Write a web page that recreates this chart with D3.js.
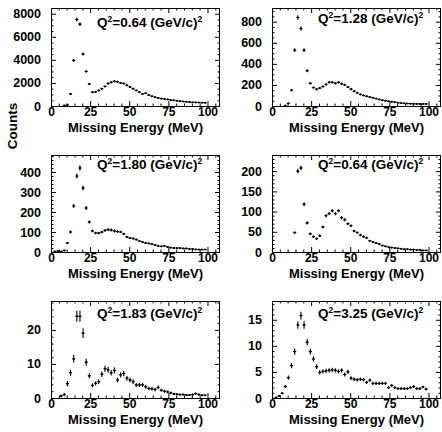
<!DOCTYPE html>
<html lang="en">
<head>
<meta charset="UTF-8">
<title>Missing Energy Spectra</title>
<script src="https://d3js.org/d3.v7.min.js"></script>
<style>
  html, body { margin: 0; padding: 0; background: #fff; }
  svg { display: block; }
  text { font-family: "Liberation Sans", Arial, Helvetica, sans-serif; font-weight: bold; fill: #000; }
  .axis path { display: none; }
  .axis line { stroke: #000; stroke-width: 1; }
</style>
</head>
<body>
<svg width="442" height="432"></svg>
<script>
// bin centres (MeV), 2 MeV bins
const energy = [0.5, 2.5, 4.5, 6.5, 8.5, 10.5, 12.5, 14.5, 16.5, 18.5,
                20.5, 22.5, 24.5, 26.5, 28.5, 30.5, 32.5, 34.5, 36.5, 38.5,
                40.5, 42.5, 44.5, 46.5, 48.5, 50.5, 52.5, 54.5, 56.5, 58.5,
                60.5, 62.5, 64.5, 66.5, 68.5, 70.5, 72.5, 74.5, 76.5, 78.5,
                80.5, 82.5, 84.5, 86.5, 88.5, 90.5, 92.5, 94.5, 96.5, 98.5];

const q2Labels = ["0.64", "1.28", "1.80", "0.64", "1.83", "3.25"];

const counts1 = [null, null, null, null, 50, 100, 1050, 3950, 7500, 7100,
                 4500, 3000, 1900, 1200, 1230, 1350, 1500, 1700, 1950, 2050,
                 2150, 2100, 2000, 1950, 1800, 1650, 1500, 1350, 1200, 1050,
                 1100, 950, 850, 760, 700, 640, 600, 570, 530, 490,
                 450, 420, 390, 360, 340, 320, 310, 300, 290, 280];
const errors1 = [0, 0, 0, 0, 20, 30, 70, 120, 170, 165,
                 130, 105, 85, 70, 70, 70, 75, 80, 85, 90,
                 90, 90, 85, 85, 85, 80, 75, 70, 70, 65,
                 65, 60, 60, 55, 55, 50, 50, 50, 45, 45,
                 45, 40, 40, 40, 40, 35, 35, 35, 35, 35];

const counts2 = [null, null, null, null, 5, 25, 150, 530, 840, 735,
                 530, 335, 215, 175, 160, 170, 185, 205, 225, 225,
                 215, 225, 210, 200, 180, 160, 140, 125, 110, 100,
                 92, 85, 78, 70, 62, 55, 50, 45, 40, 36,
                 32, 28, 25, 23, 22, 21, 20, 20, 20, 20];
const errors2 = [0, 0, 0, 0, 2, 5, 10, 18, 22, 20,
                 18, 14, 11, 10, 10, 10, 10, 11, 11, 11,
                 11, 11, 11, 10, 10, 10, 9, 8, 8, 8,
                 7, 7, 7, 6, 6, 6, 5, 5, 5, 5,
                 4, 4, 4, 4, 4, 4, 4, 4, 4, 4];

const counts3 = [null, 3, 5, 3, 8, 45, 100, 230, 380, 420,
                 320, 220, 150, 105, 95, 95, 100, 108, 112, 110,
                 105, 102, 100, 90, 75, 70, 67, 62, 55, 50,
                 45, 43, 40, 35, 30, 28, 30, 25, 22, 20,
                 20, 20, 18, 18, 15, 15, 13, 12, 12, 12];
const errors3 = [0, 1, 2, 1, 2, 5, 7, 10, 13, 14,
                 12, 10, 8, 7, 6, 6, 6, 7, 7, 7,
                 7, 6, 6, 6, 5, 5, 5, 5, 5, 4,
                 4, 4, 4, 4, 3, 3, 3, 3, 3, 3,
                 3, 3, 3, 3, 2, 2, 2, 2, 2, 2];

const counts4 = [null, null, null, null, null, null, null, 48, 200, 208,
                 118, 72, 45, 38, 33, 40, 62, 90, 95, 102,
                 95, 102, 85, 80, 70, 65, 52, 48, 42, 38,
                 35, 28, 25, 22, 20, 16, 14, 12, 11, 10,
                 9, 8, 7, 7, 6, 6, 5, 5, 4, 4];
const errors4 = [0, 0, 0, 0, 0, 0, 0, 3, 6, 6,
                 5, 4, 3, 3, 3, 3, 3, 4, 4, 4,
                 4, 4, 4, 4, 3, 3, 3, 3, 3, 3,
                 2, 2, 2, 2, 2, 2, 2, 2, 2, 2,
                 1, 1, 1, 1, 1, 1, 1, 1, 1, 1];

const counts5 = [null, null, null, 0.6, 1.0, 4.2, 7.4, 11.5, 24.0, 24.0,
                 19.0, 10.5, 6.5, 3.7, 4.3, 4.8, 7.0, 8.6, 8.3, 7.4,
                 8.1, 5.3, 6.8, 7.2, 5.8, 5.3, 4.8, 3.8, 3.8, 3.9,
                 3.3, 2.8, 2.7, 2.5, 3.1, 2.3, 2.0, 1.8, 1.5, 1.2,
                 1.1, 1.0, 1.0, 0.9, 0.9, 1.0, 1.3, 1.0, 0.8, 0.8];
const errors5 = [0, 0, 0, 0.4, 0.5, 0.8, 0.9, 1.1, 1.6, 1.6,
                 1.4, 1.0, 0.8, 0.6, 0.6, 0.7, 0.8, 0.9, 0.9, 0.8,
                 0.9, 0.7, 0.8, 0.8, 0.7, 0.7, 0.7, 0.6, 0.6, 0.6,
                 0.55, 0.5, 0.5, 0.5, 0.55, 0.45, 0.45, 0.4, 0.4, 0.35,
                 0.35, 0.3, 0.3, 0.3, 0.3, 0.3, 0.35, 0.3, 0.3, 0.3];

const counts6 = [null, 0.1, 0.4, 0.9, 2.2, 3.9, 6.2, 8.9, 14.0, 15.8,
                 14.0, 10.7, 8.9, 7.5, 6.0, 4.9, 5.1, 5.2, 5.3, 5.4,
                 5.3, 5.1, 5.3, 4.5, 5.0, 3.8, 3.6, 3.5, 3.6, 3.5,
                 3.0, 3.4, 2.8, 2.8, 2.8, 2.8, 2.8, 2.0, 2.4, 2.0,
                 1.8, 1.8, 1.8, 1.8, 2.0, 2.2, 1.8, 1.8, 2.1, 1.7];
const errors6 = [0, 0.1, 0.15, 0.2, 0.3, 0.4, 0.5, 0.6, 0.7, 0.75,
                 0.7, 0.6, 0.55, 0.5, 0.45, 0.4, 0.4, 0.4, 0.4, 0.4,
                 0.4, 0.4, 0.4, 0.4, 0.4, 0.35, 0.35, 0.35, 0.35, 0.35,
                 0.3, 0.35, 0.3, 0.3, 0.3, 0.3, 0.3, 0.25, 0.3, 0.25,
                 0.25, 0.25, 0.25, 0.25, 0.25, 0.3, 0.25, 0.25, 0.25, 0.25];

const allCounts = [counts1, counts2, counts3, counts4, counts5, counts6];
const allErrors = [errors1, errors2, errors3, errors4, errors5, errors6];

const yMax   = [8500, 930, 485, 240, 28.5, 18.6];
const yMajor = [2000, 200, 100, 50, 10, 5];
const yMinor = [500, 50, 20, 10, 2, 1];
const xMajor = [0, 25, 50, 75, 100];
const xMinor = [5, 10, 15, 20, 30, 35, 40, 45, 55, 60, 65, 70, 80, 85, 90, 95, 105];

// layout
const cols = [{x0: 51, x1: 220}, {x0: 272, x1: 441}];
const rows = [{y0: 8, y1: 106}, {y0: 155, y1: 252}, {y0: 301, y1: 398}];
const labelDy = [19, 15, 14, 14, 17, 17];

const svg = d3.select("svg");

allCounts.forEach((counts, i) => {
    const c = cols[i % 2], r = rows[Math.floor(i / 2)];
    const errs = allErrors[i];

    const x = d3.scaleLinear().domain([0, 108]).range([c.x0, c.x1]);
    const y = d3.scaleLinear().domain([0, yMax[i]]).range([r.y1, r.y0]);

    const g = svg.append("g");

    const majY = d3.range(0, yMax[i] + 1e-9, yMajor[i]);
    const minY = d3.range(0, yMax[i] + 1e-9, yMinor[i]).filter(v => majY.indexOf(v) < 0);

    // bottom axis with labels
    g.append("g").attr("class", "axis")
        .attr("transform", `translate(0,${r.y1})`)
        .call(d3.axisBottom(x).tickValues(xMajor).tickSizeInner(-5).tickSizeOuter(0).tickPadding(1))
        .call(a => a.selectAll("text").attr("font-size", 12));
    g.append("g").attr("class", "axis")
        .attr("transform", `translate(0,${r.y1})`)
        .call(d3.axisBottom(x).tickValues(xMinor).tickSize(-2.5).tickFormat(""));
    // top axis
    g.append("g").attr("class", "axis")
        .attr("transform", `translate(0,${r.y0})`)
        .call(d3.axisTop(x).tickValues(xMajor).tickSize(-5).tickFormat(""));
    g.append("g").attr("class", "axis")
        .attr("transform", `translate(0,${r.y0})`)
        .call(d3.axisTop(x).tickValues(xMinor).tickSize(-2.5).tickFormat(""));

    // left axis with labels
    g.append("g").attr("class", "axis")
        .attr("transform", `translate(${c.x0},0)`)
        .call(d3.axisLeft(y).tickValues(majY).tickSizeInner(-5).tickSizeOuter(0).tickPadding(10).tickFormat(d3.format("d")))
        .call(a => a.selectAll("text").attr("font-size", 12.5));
    g.append("g").attr("class", "axis")
        .attr("transform", `translate(${c.x0},0)`)
        .call(d3.axisLeft(y).tickValues(minY).tickSize(-2.5).tickFormat(""));
    // right axis
    g.append("g").attr("class", "axis")
        .attr("transform", `translate(${c.x1},0)`)
        .call(d3.axisRight(y).tickValues(majY).tickSize(-5).tickFormat(""));
    g.append("g").attr("class", "axis")
        .attr("transform", `translate(${c.x1},0)`)
        .call(d3.axisRight(y).tickValues(minY).tickSize(-2.5).tickFormat(""));

    // frame
    g.append("rect")
        .attr("x", c.x0 + 0.5).attr("y", r.y0 + 0.5)
        .attr("width", c.x1 - c.x0 - 1).attr("height", r.y1 - r.y0)
        .attr("fill", "none").attr("stroke", "#000");

    // points
    const pts = energy.map((e, k) => ({e: e, v: counts[k], err: errs[k]})).filter(d => d.v !== null);
    const pg = g.append("g").attr("stroke", "#000").attr("stroke-width", 1.1);
    pg.selectAll("line.h").data(pts).enter().append("line")
        .attr("x1", d => x(d.e - 1)).attr("x2", d => x(d.e + 1))
        .attr("y1", d => y(d.v)).attr("y2", d => y(d.v));
    pg.selectAll("line.v").data(pts).enter().append("line")
        .attr("x1", d => x(d.e)).attr("x2", d => x(d.e))
        .attr("y1", d => y(Math.max(0, d.v - d.err))).attr("y2", d => y(d.v + d.err));
    g.append("g").selectAll("circle").data(pts).enter().append("circle")
        .attr("cx", d => x(d.e)).attr("cy", d => y(d.v)).attr("r", 1.0).attr("fill", "#000");

    // Q^2 label
    const t = g.append("text")
        .attr("x", c.x0 + 46).attr("y", r.y0 + labelDy[i])
        .attr("font-size", 13.5);
    t.append("tspan").text("Q");
    t.append("tspan").attr("font-size", 8.5).attr("dy", -5).text("2");
    t.append("tspan").attr("dy", 5).text("=" + q2Labels[i] + " (GeV/c)");
    t.append("tspan").attr("font-size", 8.5).attr("dy", -5).text("2");

    // x title
    g.append("text")
        .attr("x", (c.x0 + c.x1) / 2).attr("y", r.y1 + 26)
        .attr("text-anchor", "middle").attr("font-size", 13)
        .text("Missing Energy (MeV)");
});

svg.append("text")
    .attr("transform", "translate(17,126) rotate(-90)")
    .attr("text-anchor", "middle").attr("font-size", 13.5)
    .text("Counts");
</script>
</body>
</html>
